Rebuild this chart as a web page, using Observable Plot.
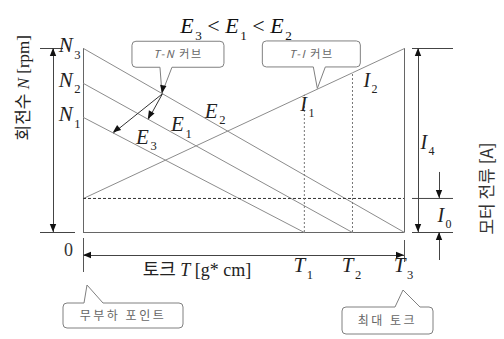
<!DOCTYPE html>
<html>
<head>
<meta charset="utf-8">
<script src="https://cdn.jsdelivr.net/npm/d3@7"></script>
<script src="https://cdn.jsdelivr.net/npm/@observablehq/plot@0.6"></script>
<style>
  body { margin: 0; background: #fff; }
  svg { display: block; }
</style>
</head>
<body>
<div id="chart"></div>
<script>
// DC motor characteristic: speed–torque (T-N) lines for three supply voltages
// and the torque–current (T-I) line, on relative units.

// T-N lines, one per supply voltage (E3 < E1 < E2)
const voltages = ["E2", "E1", "E3"];
const noLoadSpeed = [100, 81, 62.5];     // N3, N2, N1
const stallTorque = [100, 83.8, 68.8];   // T3, T2, T1
const speedNames = ["N3", "N2", "N1"];
const torqueNames = ["T3", "T2", "T1"];

// T-I line: current at no load, at T1, at T2 and at stall (T3)
const currentTorque = [0, 68.8, 83.8, 100];
const current = [18.5, 74.6, 86.8, 100];  // I0, I1, I2, I4
const currentNames = ["I0", "I1", "I2", "I4"];

// ---- layout ----
const W = 504, H = 339;
const margin = {top: 48, right: 100, bottom: 107, left: 83};
const T3 = stallTorque[0], Nmax = noLoadSpeed[0], I0 = current[0];
const xPerPx = T3 / (W - margin.left - margin.right);
const yPerPx = Nmax / (H - margin.top - margin.bottom);
const ox = px => px * xPerPx;    // pixels to the right, in torque units
const oy = px => -px * yPerPx;   // pixels downward, in speed units

const serif = "'Liberation Serif', 'Noto Sans CJK KR', serif";
const gothic = "'Noto Sans CJK KR', 'Liberation Serif', sans-serif";
const lineGrey = "#8c8c8c";

// "E2" -> "*E*_2" : italic symbol with a subscript
const sym = s => `*${s[0]}*_${s.slice(1)}`;
const speedAt = (i, t) => noLoadSpeed[i] * (1 - t / stallTorque[i]);
const currentAt = t => {
  const j = Math.max(1, d3.bisectLeft(currentTorque, t));
  const [t0, t1] = [currentTorque[j - 1], currentTorque[j]];
  return current[j - 1] + (current[j] - current[j - 1]) * (t - t0) / (t1 - t0);
};

const tnRows = voltages.flatMap((v, i) => [
  {v, T: 0, N: noLoadSpeed[i]},
  {v, T: stallTorque[i], N: 0}
]);
const tiRows = currentTorque.map((T, i) => ({T, I: current[i]}));

// pointer from the "T-N 커브" note: lands on E2, then fans out to E1 and E3
const tip = [24.6, speedAt(0, 24.6)];
const fan = [[20.2, speedAt(1, 20.2)], [9.3, speedAt(2, 9.3)]];
// the "T-I 커브" note points at the T-I line here
const tiNote = [73, currentAt(73)];

// rounded note box with a pointed tail ending at (x, y)
function callout({x, y, box, base, side, label, fontSize, spacing}) {
  return (index, scales) => {
    const tx = scales.x(x), ty = scales.y(y);
    const x0 = tx + box[0], y0 = ty + box[1], x1 = tx + box[2], y1 = ty + box[3];
    const b0 = tx + base[0], b1 = tx + base[1], r = 4;
    const p = d3.path();
    p.moveTo(x0 + r, y0);
    if (side === "top") { p.lineTo(b0, y0); p.lineTo(tx, ty); p.lineTo(b1, y0); }
    p.lineTo(x1 - r, y0); p.quadraticCurveTo(x1, y0, x1, y0 + r);
    p.lineTo(x1, y1 - r); p.quadraticCurveTo(x1, y1, x1 - r, y1);
    if (side === "bottom") { p.lineTo(b1, y1); p.lineTo(tx, ty); p.lineTo(b0, y1); }
    p.lineTo(x0 + r, y1); p.quadraticCurveTo(x0, y1, x0, y1 - r);
    p.lineTo(x0, y0 + r); p.quadraticCurveTo(x0, y0, x0 + r, y0);
    p.closePath();
    const g = d3.create("svg:g");
    g.append("path").attr("d", p).attr("fill", "#fff").attr("stroke", "#808080").attr("stroke-width", 1);
    g.append("text")
      .attr("x", (x0 + x1) / 2).attr("y", (y0 + y1) / 2).attr("dy", "0.35em")
      .attr("text-anchor", "middle").attr("fill", "#666")
      .attr("font-family", gothic).attr("font-size", fontSize)
      .attr("letter-spacing", spacing)
      .text(label);
    return g.node();
  };
}

// filled triangular arrowheads; the tip sits on `at`, pointing away from `from`
function heads(list) {
  return (index, scales) => {
    const g = d3.create("svg:g").attr("fill", "#111");
    for (const h of list) {
      const px = scales.x(h.at[0]), py = scales.y(h.at[1]);
      const fx = h.from ? scales.x(h.from[0]) : px + h.fromPx[0];
      const fy = h.from ? scales.y(h.from[1]) : py + h.fromPx[1];
      const a = Math.atan2(py - fy, px - fx), c = Math.cos(a), s = Math.sin(a);
      const L = 8, w = 3.2, bx = px - L * c, by = py - L * s;
      g.append("path").attr("d", `M${px},${py}L${bx + w * s},${by - w * c}L${bx - w * s},${by + w * c}Z`);
    }
    return g.node();
  };
}

const xLeft = ox(-30);          // speed range arrow, left of the frame
const xI4 = T3 + ox(14);        // stall current arrow
const xI0 = T3 + ox(35);        // no-load current arrows
const yAxis = oy(23);           // torque arrow under the frame

const plot = Plot.plot({
  width: W,
  height: H,
  margin: 0,
  marginTop: margin.top,
  marginRight: margin.right,
  marginBottom: margin.bottom,
  marginLeft: margin.left,
  x: {domain: [0, T3], axis: null},
  y: {domain: [0, Nmax], axis: null},
  marks: [
    // frame
    Plot.ruleX([0, T3], {y1: 0, y2: Nmax, stroke: "#666"}),
    Plot.ruleY([0], {x1: 0, x2: T3, stroke: "#666"}),

    // T-N lines
    Plot.line(tnRows, {x: "T", y: "N", z: "v", stroke: lineGrey, strokeWidth: 1}),
    // T-I line
    Plot.line(tiRows, {x: "T", y: "I", stroke: lineGrey, strokeWidth: 1}),
    // no-load current level
    Plot.ruleY([I0], {x1: 0, x2: T3, stroke: "#333", strokeDasharray: "3,2"}),
    // drop lines at T1 and T2
    Plot.ruleX(tiRows.slice(1, 3), {x: "T", y1: 0, y2: "I", stroke: "#777", strokeDasharray: "2,2"}),

    // speed range arrow with its extension lines
    Plot.ruleY([Nmax], {x1: ox(-43), x2: ox(-20), stroke: "#444"}),
    Plot.ruleY([0], {x1: ox(-43), x2: ox(-8), stroke: "#444"}),
    Plot.ruleX([xLeft], {y1: 0, y2: Nmax, stroke: "#444"}),

    // current arrows with their extension lines
    Plot.ruleY([Nmax, I0, 0], {x1: T3 + ox(8), x2: T3 + ox(49), stroke: "#444"}),
    Plot.ruleX([xI4], {y1: 0, y2: Nmax, stroke: "#444"}),
    Plot.ruleX([xI0], {y1: I0, y2: I0 + oy(-26), stroke: "#444"}),
    Plot.ruleX([xI0], {y1: 0, y2: oy(28), stroke: "#444"}),

    // torque arrow and its end ticks
    Plot.ruleY([yAxis], {x1: 0, x2: T3, stroke: "#444"}),
    Plot.ruleX([0], {y1: oy(6), y2: oy(40), stroke: "#555"}),
    Plot.ruleX([T3], {y1: oy(8), y2: oy(30), stroke: "#555"}),

    // pointers from the T-N note to the three lines
    Plot.link(fan, {x1: () => tip[0], y1: () => tip[1], x2: d => d[0], y2: d => d[1], stroke: "#333"}),

    // notes
    callout({x: tip[0], y: tip[1], box: [-30, -52, 62, -26], base: [-2, 10], side: "bottom",
             label: "*T-N* 커브", fontSize: 11, spacing: 1.5}),
    callout({x: tiNote[0], y: tiNote[1], box: [-55, -47.5, 43, -21.5], base: [-4, 8], side: "bottom",
             label: "*T-I* 커브", fontSize: 11, spacing: 1.5}),
    callout({x: ox(4), y: oy(53), box: [-24, 18, 96, 43], base: [-3, 16], side: "top",
             label: "무부하 포인트", fontSize: 12, spacing: 2.5}),
    callout({x: T3 + ox(-1), y: oy(58), box: [-61, 17, 30, 44], base: [-8, 17], side: "top",
             label: "최대 토크", fontSize: 12, spacing: 2.5}),

    heads([
      {at: [xLeft, Nmax], from: [xLeft, 0]},
      {at: [xLeft, 0], from: [xLeft, Nmax]},
      {at: [xI4, Nmax], from: [xI4, 0]},
      {at: [xI4, 0], from: [xI4, Nmax]},
      {at: [xI0, I0], from: [xI0, I0 + oy(-26)]},
      {at: [xI0, 0], from: [xI0, oy(28)]},
      {at: [0, yAxis], from: [T3, yAxis]},
      {at: [T3, yAxis], from: [0, yAxis]},
      {at: tip, fromPx: [4, -24]},
      {at: fan[0], from: tip},
      {at: fan[1], from: tip}
    ]),

    // title
    Plot.text(["*E*_3 < *E*_1 < *E*_2"], {text: d => d, frameAnchor: "top", dx: -8, dy: -31,
      fontSize: 22, fontFamily: serif, fill: "#111"}),

    // axis titles
    Plot.text(["회전수 *N* [rpm]"], {text: d => d, frameAnchor: "left", rotate: -90, dx: -60,
      fontSize: 17, fontFamily: serif, fill: "#222"}),
    Plot.text(["모터 전류 [A]"], {text: d => d, frameAnchor: "right", rotate: -90, dx: 83, dy: 2,
      fontSize: 17, fontFamily: gothic, fill: "#333"}),
    Plot.text(["토크 *T* [g* cm]"], {text: d => d, frameAnchor: "bottom", dx: -47, dy: 43,
      fontSize: 18, fontFamily: serif, fill: "#222"}),
    Plot.text(["0"], {text: d => d, x: 0, y: 0, dx: -15, dy: 18, fontSize: 18, fontFamily: serif, fill: "#333"}),

    // speeds at no load
    Plot.text(noLoadSpeed, {x: 0, y: d => d, dx: -3, dy: -3, textAnchor: "end",
      text: (d, i) => sym(speedNames[i]), fontSize: 21, fontFamily: serif, fill: "#222"}),
    // stall torques
    Plot.text(stallTorque, {x: d => d, y: 0, dx: -1, dy: 33,
      text: (d, i) => sym(torqueNames[i]), fontSize: 21, fontFamily: serif, fill: "#222"}),
    // voltage labels above their lines
    Plot.text(voltages, {
      x: (v, i) => [41, 30.5, 19.6][i],
      y: (v, i) => speedAt(i, [41, 30.5, 19.6][i]),
      dy: -13, text: v => sym(v), fontSize: 21, fontFamily: serif, fill: "#222"}),
    // current labels
    Plot.text([1], {x: currentTorque[1], y: current[1], dx: 3, dy: 9, text: () => sym(currentNames[1]),
      fontSize: 20, fontFamily: serif, fill: "#222"}),
    Plot.text([2], {x: currentTorque[2], y: current[2], dx: 18, dy: 8, text: () => sym(currentNames[2]),
      fontSize: 20, fontFamily: serif, fill: "#222"}),
    Plot.text([3], {x: T3, y: Nmax / 2, dx: 23, dy: 2, text: () => sym(currentNames[3]),
      fontSize: 20, fontFamily: serif, fill: "#222"}),
    Plot.text([0], {x: T3, y: I0 / 2, dx: 40, dy: 0, text: () => sym(currentNames[0]),
      fontSize: 20, fontFamily: serif, fill: "#222"})
  ]
});

document.getElementById("chart").append(plot);

// "*X*" -> italic, "_d" -> subscript
d3.select(plot).selectAll("text").each(function () {
  const raw = this.textContent;
  if (!/\*[^*]+\*|_\w/.test(raw)) return;
  const fs = parseFloat(getComputedStyle(this).fontSize);
  const shift = 0.3 * fs;
  const t = d3.select(this).text(null);
  let lowered = false;
  for (const part of raw.split(/(\*[^*]+\*|_\w)/)) {
    if (!part) continue;
    const span = t.append("tspan");
    if (part[0] === "_") {
      span.text(part.slice(1)).attr("font-size", 0.6 * fs).attr("font-style", "normal").attr("dx", 1.5);
      if (!lowered) { span.attr("dy", shift); lowered = true; }
    } else {
      if (lowered) { span.attr("dy", -shift); lowered = false; }
      if (part[0] === "*") span.text(part.slice(1, -1)).attr("font-style", "italic");
      else span.text(part);
    }
  }
});
</script>
</body>
</html>
